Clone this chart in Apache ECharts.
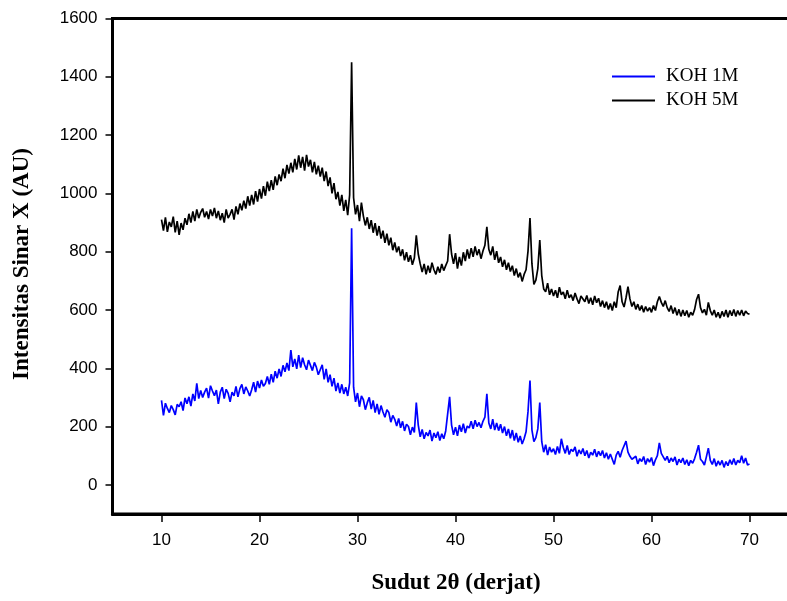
<!DOCTYPE html>
<html>
<head>
<meta charset="utf-8">
<script src="https://cdn.jsdelivr.net/npm/echarts@6/dist/echarts.min.js"></script>
<style>html,body{margin:0;padding:0;background:#fff;overflow:hidden}#c{width:800px;height:601px}</style>
</head>
<body>
<div id="c"></div>
<script>
// 2-theta sampling grid (degrees)
const thetaStart = 10.0;
const thetaStep = 0.2;
const xTicks = [10, 20, 30, 40, 50, 60, 70];
const yTicks = [0, 200, 400, 600, 800, 1000, 1200, 1400, 1600];
const seriesNames = ['KOH 1M', 'KOH 5M'];

// KOH 1M (blue)
const koh1M = [
290,238,280,262,248,272,
258,240,276,268,285,
255,298,278,302,270,
312,288,348,296,324,
300,318,332,298,340,
322,306,325,278,318,
335,296,328,314,285,
318,305,338,302,330,
345,312,336,322,305,
326,352,318,356,332,
360,338,348,372,345,
380,352,390,366,398,
372,410,388,418,392,
462,405,432,398,445,
402,436,412,395,428,
430,392,420,404,378,
395,412,362,398,352,
378,338,366,322,350,
315,345,312,335,305,
350,880,335,285,315,
268,305,292,258,282,
300,260,290,248,278,
242,272,250,232,258,
248,215,238,225,202,
228,196,218,185,208,
200,172,198,180,
282,205,
165,190,158,180,
168,188,150,178,162,
182,152,175,158,185,
182,302,205,
172,198,168,205,182,
210,178,202,195,218,
192,222,200,214,196,
218,232,
312,212,
192,225,188,212,186,
208,178,200,168,192,
160,188,152,178,146,
168,140,158,182,
252,358,188,
148,162,192,282,148,
112,138,102,130,112,
124,104,132,108,158,
128,108,135,104,122,
115,130,98,120,106,
125,100,118,92,112,
102,122,96,115,100,
118,92,110,88,106,
112,70,102,
115,95,118,122,150,112,98,
88,82,98,72,90,
80,97,70,90,78,
94,66,86,100,
144,108,
102,84,98,76,92,
80,96,68,88,76,
92,70,86,66,84,
74,90,
112,136,88,
80,68,96,
126,84,
70,90,64,82,68,
84,60,80,66,86,
70,90,68,84,76,
100,74,92,68,72
];

// KOH 5M (black)
const koh5M = [
910,872,918,868,902,885,
920,866,905,858,898,
875,915,892,930,900,
938,905,945,915,935,
948,918,938,912,945,
922,950,915,940,908,
932,900,945,915,928,
945,910,955,928,965,
942,975,948,990,958,
995,962,1008,972,1015,
982,1025,992,1040,1008,
1045,1012,1058,1028,1065,
1042,1085,1052,1098,1068,
1105,1072,1118,1082,1130,
1088,1125,1078,1132,1092,
1115,1072,1108,1065,1095,
1058,1088,1042,1075,1025,
1055,1000,1035,980,1005,
958,995,940,978,925,
995,1450,985,928,960,
905,968,922,890,918,
878,908,865,898,855,
888,845,872,830,862,
822,848,805,832,798,
818,785,808,770,798,
765,788,755,778,
856,792,
758,730,758,722,
752,728,762,738,722,
748,728,758,735,752,
768,860,792,
758,795,742,782,752,
798,768,808,776,812,
782,818,788,808,776,
802,822,
885,808,
788,818,772,802,762,
782,748,772,738,762,
732,752,718,742,712,
728,698,722,738,
802,915,758,
688,702,742,840,718,
672,662,692,652,672,
648,668,642,678,652,
662,638,668,642,652,
632,658,638,622,648,
652,628,650,622,642,
618,648,625,640,612,
632,608,628,602,622,
598,628,608,
662,684,628,610,642,680,638,
612,628,602,620,598,
615,592,612,596,608,
592,615,598,628,
646,626,
612,632,608,595,615,
588,608,582,602,578,
600,580,598,575,592,
582,602,
636,654,608,
590,602,582,
626,598,
582,600,575,592,572,
595,578,600,575,598,
580,602,578,598,582,
600,580,596,588,585
];

function pairs(vals) {
  return vals.map((v, i) => [+(thetaStart + i * thetaStep).toFixed(2), v]);
}

const chart = echarts.init(document.getElementById('c'), null, {renderer: 'canvas'});
const tickFont = {fontFamily: 'Liberation Sans, Arial, sans-serif', fontSize: 17, color: '#000'};
const titleFont = 'bold 23px "Liberation Serif", "Times New Roman", serif';

chart.setOption({
  animation: false,
  backgroundColor: '#fff',
  grid: {left: 112.5, width: 686, top: 18.5, bottom: 87, show: true, borderColor: '#000', borderWidth: 3, backgroundColor: 'transparent'},
  legend: {
    orient: 'vertical', left: 612, top: 66, padding: 0,
    itemWidth: 43, itemHeight: 2, itemGap: 3, icon: 'rect',
    textStyle: {fontFamily: 'Liberation Serif, Times New Roman, serif', fontSize: 19, color: '#000', lineHeight: 21, padding: [0, 0, 0, 6]},
    data: seriesNames
  },
  xAxis: {
    type: 'value', min: 5, max: 75, interval: 5,
    axisLine: {onZero: false, lineStyle: {color: '#000', width: 3}},
    axisTick: {show: true, length: 8, lineStyle: {color: '#000', width: 1.5}, customValues: xTicks},
    axisLabel: Object.assign({margin: 18, customValues: xTicks}, tickFont),
    splitLine: {show: false}
  },
  yAxis: {
    type: 'value', min: -100, max: 1600, interval: 100,
    axisLine: {onZero: false, lineStyle: {color: '#000', width: 3}},
    axisTick: {show: true, length: 7, lineStyle: {color: '#000', width: 1.5}, customValues: yTicks},
    axisLabel: Object.assign({margin: 15, customValues: yTicks, formatter: v => String(v)}, tickFont),
    splitLine: {show: false}
  },
  graphic: [
    {type: 'text', x: 456, y: 583, style: {text: 'Sudut 2θ (derjat)', textAlign: 'center', textVerticalAlign: 'middle', font: titleFont, fill: '#000'}},
    {type: 'text', x: 22.5, y: 264, rotation: Math.PI / 2, style: {text: 'Intensitas Sinar X (AU)', textAlign: 'center', textVerticalAlign: 'middle', font: titleFont, fill: '#000'}}
  ],
  series: [
    {name: seriesNames[0], type: 'line', data: pairs(koh1M), showSymbol: false, symbol: 'none', color: '#0000ff', lineStyle: {color: '#0000ff', width: 1.7}},
    {name: seriesNames[1], type: 'line', data: pairs(koh5M), showSymbol: false, symbol: 'none', color: '#000000', lineStyle: {color: '#000000', width: 1.7}}
  ]
});
</script>
</body>
</html>
